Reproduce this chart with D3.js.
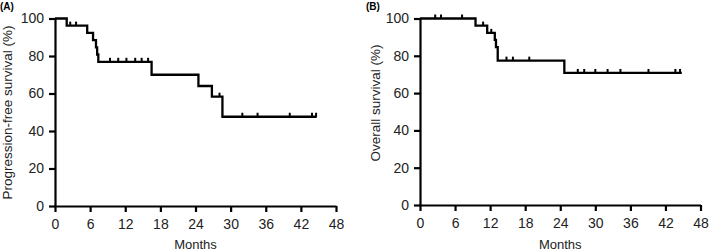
<!DOCTYPE html>
<html>

<head>
    <meta charset="utf-8">
    <title>Survival curves</title>
    <style>
        body { margin: 0; background: #fff; }
        text { font-family: "Liberation Sans", Arial, sans-serif; }
    </style>
</head>

<body>
    <script src="https://d3js.org/d3.v7.min.js"></script>
    <script>
    // Kaplan-Meier data
    // event times (months) and survival (%) just after each drop
    const pfsTimes = [0, 2.0, 5.5, 6.5, 7.0, 7.2, 7.4, 16.5, 24.5, 26.8, 28.6];
    const pfsSurv = [100, 96.2, 92.3, 88.5, 84.6, 80.8, 76.9, 70.0, 64.0, 58.3, 47.6];
    const pfsEnd = 44.7;
    const pfsCensor = [2.6, 3.6, 9.4, 10.8, 12.2, 13.7, 14.8, 15.9, 28.1, 32.0, 34.6, 40.1, 43.9, 44.6];

    const osTimes = [0, 9.5, 11.5, 12.8, 13.0, 13.3, 24.7];
    const osSurv = [100, 96.2, 92.3, 88.5, 84.6, 77.4, 70.8];
    const osEnd = 44.8;
    const osCensor = [2.6, 3.6, 7.2, 10.8, 12.2, 14.8, 15.9, 18.7, 27.0, 28.1, 30.0, 32.1, 34.3, 39.1, 43.7, 44.5];

    const xTicks = [0, 6, 12, 18, 24, 30, 36, 42, 48];
    const yTicks = [0, 20, 40, 60, 80, 100];

    const svg = d3.select("body")
        .append("svg")
        .attr("width", 709)
        .attr("height", 251);

    function panel(opt) {
        const x = d3.scaleLinear().domain([0, 48]).range([opt.left, opt.right]);
        const y = d3.scaleLinear().domain([0, 100]).range([opt.bottom, opt.top]);
        const g = svg.append("g");

        // axes
        const xAxis = g.append("g")
            .attr("transform", `translate(0,${opt.bottom})`)
            .call(d3.axisBottom(x).tickValues(xTicks).tickSize(6).tickPadding(7).tickSizeOuter(0));
        const yAxis = g.append("g")
            .attr("transform", `translate(${opt.left},0)`)
            .call(d3.axisLeft(y).tickValues(yTicks).tickSize(6).tickPadding(5).tickSizeOuter(0));
        [xAxis, yAxis].forEach(a => {
            a.select(".domain").attr("stroke", "#000").attr("stroke-width", 2.2);
            a.selectAll(".tick line").attr("stroke", "#000").attr("stroke-width", 2.2);
            a.selectAll(".tick text")
                .attr("fill", "#222")
                .style("font-size", "14px")
                .style("font-family", "'Liberation Sans', Arial, sans-serif");
        });

        // step line
        const pts = opt.times.map((t, i) => [t, opt.surv[i]]);
        pts.push([opt.end, opt.surv[opt.surv.length - 1]]);
        g.append("path")
            .datum(pts)
            .attr("fill", "none")
            .attr("stroke", "#000")
            .attr("stroke-width", 2.3)
            .attr("stroke-linejoin", "miter")
            .attr("d", d3.line()
                .x(d => x(d[0]))
                .y(d => y(d[1]))
                .curve(d3.curveStepAfter));

        // censor marks
        const survAt = t => {
            let s = opt.surv[0];
            opt.times.forEach((tt, i) => { if (tt <= t) s = opt.surv[i]; });
            return s;
        };
        g.selectAll("line.censor")
            .data(opt.censor)
            .enter()
            .append("line")
            .attr("class", "censor")
            .attr("x1", d => x(d))
            .attr("x2", d => x(d))
            .attr("y1", d => y(survAt(d)))
            .attr("y2", d => y(survAt(d)) - 4)
            .attr("stroke", "#000")
            .attr("stroke-width", 2);

        // titles
        g.append("text")
            .attr("x", (opt.left + opt.right) / 2)
            .attr("y", 249)
            .attr("text-anchor", "middle")
            .attr("fill", "#222")
            .style("font-size", "13px")
            .text("Months");
        g.append("text")
            .attr("transform", `translate(${opt.ytitleX},${opt.ytitleY}) rotate(-90)`)
            .attr("text-anchor", "middle")
            .attr("fill", "#222")
            .style("font-size", "13.5px")
            .text(opt.ytitle);
        g.append("text")
            .attr("x", opt.labelX)
            .attr("y", 10)
            .attr("fill", "#000")
            .style("font-size", "10px")
            .style("font-weight", "bold")
            .text(opt.label);
    }

    panel({
        left: 55, right: 336, top: 18.5, bottom: 206,
        times: pfsTimes, surv: pfsSurv, end: pfsEnd, censor: pfsCensor,
        ytitle: "Progression-free survival (%)", ytitleX: 12, ytitleY: 112.5, label: "(A)", labelX: 0
    });
    panel({
        left: 420, right: 700.5, top: 18.5, bottom: 205,
        times: osTimes, surv: osSurv, end: osEnd, censor: osCensor,
        ytitle: "Overall survival (%)", ytitleX: 380, ytitleY: 103, label: "(B)", labelX: 366
    });
    </script>
</body>

</html>
